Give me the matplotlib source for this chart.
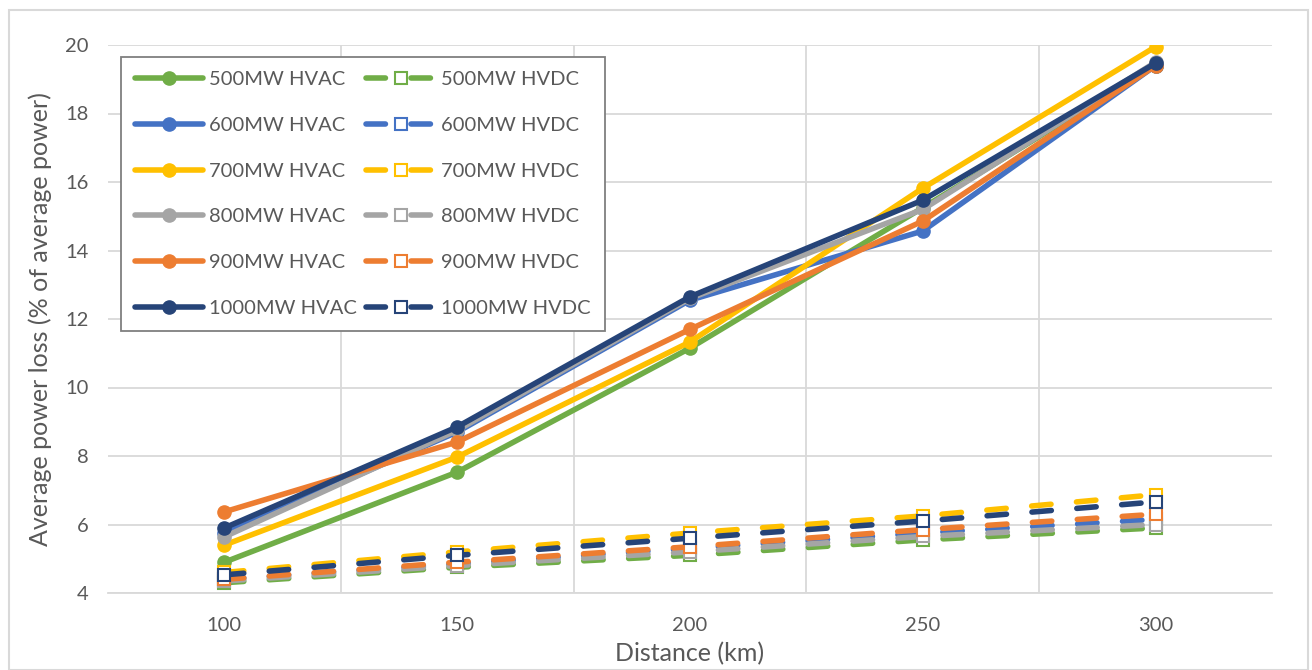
import numpy as np
import matplotlib.pyplot as plt
from matplotlib.patches import Rectangle

plt.rcParams['font.family'] = ['Lato', 'DejaVu Sans']

# distances (km)
distance = [100, 150, 200, 250, 300]

# average power loss (% of average power)
hvac_500 = [4.9, 7.53, 11.15, 15.25, 19.4]
hvac_600 = [5.75, 8.7, 12.55, 14.57, 19.4]
hvac_700 = [5.4, 7.97, 11.33, 15.82, 19.95]
hvac_800 = [5.64, 8.75, 12.6, 15.2, 19.5]
hvac_900 = [6.37, 8.41, 11.7, 14.86, 19.4]
hvac_1000 = [5.9, 8.85, 12.65, 15.47, 19.47]

hvdc_500 = [4.3, 4.75, 5.1, 5.55, 5.9]
hvdc_600 = [4.4, 4.85, 5.3, 5.75, 6.15]
hvdc_700 = [4.6, 5.2, 5.75, 6.25, 6.87]
hvdc_800 = [4.35, 4.8, 5.2, 5.65, 6.0]
hvdc_900 = [4.4, 4.9, 5.35, 5.85, 6.3]
hvdc_1000 = [4.53, 5.1, 5.6, 6.1, 6.66]

ratings = ['500MW', '600MW', '700MW', '800MW', '900MW', '1000MW']
colors = ['#70ad47', '#4472c4', '#ffc000', '#a5a5a5', '#ed7d31', '#264478']
hvac = [hvac_500, hvac_600, hvac_700, hvac_800, hvac_900, hvac_1000]
hvdc = [hvdc_500, hvdc_600, hvdc_700, hvdc_800, hvdc_900, hvdc_1000]

fig = plt.figure(figsize=(13.12, 6.7), dpi=100)
ax = fig.add_axes([108 / 1312, 1 - 593 / 670, 1164 / 1312, 548 / 670])

# light chart-area border like the excel chart
fig.patches.append(Rectangle((0.007, 0.0), 0.99, 0.985, transform=fig.transFigure,
                             fill=False, edgecolor='#d9d9d9', linewidth=1.5))

ac_handles = []
dc_handles = []
for name, c, yac, ydc in zip(ratings, colors, hvac, hvdc):
    h1, = ax.plot(distance, yac, color=c, lw=4, marker='o', ms=9.5,
                  label=name + ' HVAC', solid_capstyle='round', zorder=3)
    h2, = ax.plot(distance, ydc, color=c, lw=4, marker='s', ms=8.5,
                  mfc='white', mec=c, mew=1.5, dashes=(3.5, 4.6),
                  dash_capstyle='round', label=name + ' HVDC', zorder=3)
    ac_handles.append(h1)
    dc_handles.append(h2)

ax.set_xlim(75, 325)
ax.set_ylim(4, 20)
ax.set_xticks(distance)
ax.set_xticks([125, 175, 225, 275], minor=True)
ax.set_yticks(np.arange(4, 21, 2))
ax.grid(True, which='minor', axis='x', color='#d9d9d9', lw=1.3)
ax.grid(True, which='major', axis='y', color='#d9d9d9', lw=1.3)
ax.tick_params(which='both', length=0, labelsize=14.5, colors='#595959')
ax.tick_params(axis='x', pad=17)
ax.tick_params(axis='y', pad=14)
for s in ['top', 'right', 'left']:
    ax.spines[s].set_visible(False)
ax.spines['bottom'].set_color('#d9d9d9')
ax.spines['bottom'].set_linewidth(1.3)
ax.set_axisbelow(True)

ax.set_xlabel('Distance (km)', fontsize=18, color='#595959')
ax.set_ylabel('Average power loss (% of average power)', fontsize=18, color='#595959')
ax.xaxis.set_label_coords(0.5, -0.09)
ax.yaxis.set_label_coords(-0.048, 0.5)

leg = ax.legend(handles=ac_handles + dc_handles, ncol=2, loc='upper left',
                bbox_to_anchor=(0.011, 0.978), fontsize=14.5, handlelength=3.4,
                labelspacing=1.42, columnspacing=0.45, handletextpad=0.3,
                fancybox=False, framealpha=1, borderpad=0.7, borderaxespad=0)
leg.get_frame().set_edgecolor('#7f7f7f')
leg.get_frame().set_linewidth(1.3)
for t in leg.get_texts():
    t.set_color('#595959')

fig.savefig('out.png', dpi=100)
